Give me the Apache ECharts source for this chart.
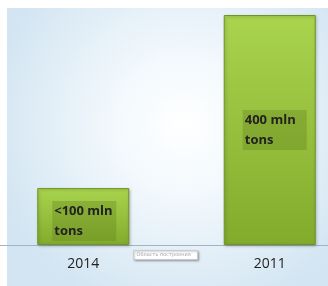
<!DOCTYPE html>
<html>
<head>
<meta charset="utf-8">
<script src="https://cdn.jsdelivr.net/npm/echarts@6/dist/echarts.min.js"></script>
<style>
  html, body { margin: 0; padding: 0; background: #fff; }
  #chart { width: 328px; height: 286px; }
</style>
</head>
<body>
<div id="chart"></div>
<script>
  // data
  const categories = ['2014', '2011'];
  const values = [99, 400];
  const labels = ['<100 mln\ntons', '400 mln\ntons'];

  const barGradient = new echarts.graphic.LinearGradient(0, 0, 0, 1, [
    { offset: 0, color: '#a9d44e' },
    { offset: 1, color: '#82ab2c' }
  ]);

  // label box offsets from the bar's top-left corner
  const labelPos = [[15, 13], [19, 95]];

  const chart = echarts.init(document.getElementById('chart'));
  chart.setOption({
    animation: false,
    graphic: [
      {
        type: 'rect',
        z: -10,
        shape: { x: 7, y: 8, width: 321, height: 278 },
        style: {
          fill: new echarts.graphic.RadialGradient(0.55, 0.42, 0.7, [
            { offset: 0, color: '#ffffff' },
            { offset: 0.35, color: '#f3f9fd' },
            { offset: 1, color: '#d3e5f2' }
          ])
        },
        silent: true
      },
      {
        type: 'group',
        left: 133,
        top: 250,
        children: [
          {
            type: 'rect',
            shape: { x: 0, y: 0, width: 64, height: 9 },
            style: { fill: '#ffffff', stroke: '#c8ccd0', lineWidth: 1, shadowColor: 'rgba(0,0,0,0.25)', shadowOffsetX: 1, shadowOffsetY: 1, shadowBlur: 2 }
          },
          {
            type: 'text',
            style: { x: 3, y: 1.5, text: 'Область построения', font: '5px "DejaVu Sans"', fill: '#a0a4a8' }
          }
        ]
      }
    ],
    grid: { left: -10, right: -35, top: 15, bottom: 41, outerBoundsMode: 'none', containLabel: false },
    xAxis: {
      type: 'category',
      data: categories,
      axisLine: { lineStyle: { color: '#a3b3c2', width: 1 } },
      axisTick: { show: false },
      axisLabel: { color: '#222', fontSize: 14, fontFamily: 'Open Sans', margin: 12 }
    },
    yAxis: {
      type: 'value',
      min: 0,
      max: 400,
      show: false
    },
    series: [{
      type: 'bar',
      barWidth: 92,
      data: values.map((v, i) => ({
        value: v,
        label: { position: labelPos[i], formatter: labels[i] }
      })),
      itemStyle: {
        color: barGradient,
        borderColor: '#6f9526',
        borderWidth: 1,
        shadowColor: 'rgba(0,0,0,0.25)',
        shadowBlur: 3,
        shadowOffsetX: 1,
        shadowOffsetY: 1
      },
      label: {
        show: true,
        color: '#222',
        fontSize: 13,
        fontWeight: 'bold',
        fontFamily: 'Open Sans',
        lineHeight: 20,
        backgroundColor: 'rgba(100,130,30,0.35)',
        width: 62,
        padding: [0, 0, 0, 2],
        align: 'left'
      }
    }]
  });
</script>
</body>
</html>
